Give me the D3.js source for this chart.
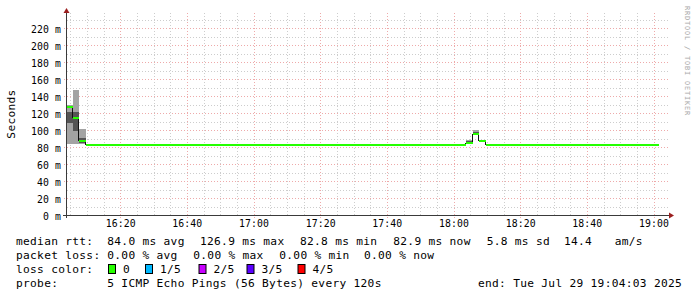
<!DOCTYPE html>
<html>
<head>
<meta charset="utf-8">
<script src="https://cdn.jsdelivr.net/npm/d3@7"></script>
<style>
  html, body { margin: 0; padding: 0; background: #fff; }
  svg { display: block; }
  text { font-family: "DejaVu Sans Mono", monospace; }
</style>
</head>
<body>
<svg id="chart" width="697" height="297"></svg>
<script>
// ── Data (ms) ──
// 5 pings every 120 s, one column per step
const stepStart = Date.UTC(2025, 6, 29, 16, 3, 42);
const stepSec = 120;
const graphStart = Date.UTC(2025, 6, 29, 16, 4, 3);
const graphEnd   = Date.UTC(2025, 6, 29, 19, 4, 3);

const median = [
  126.9, 114.5, 87.0, 82.9, 82.9, 82.9, 82.9, 82.9, 82.9, 82.9,
  82.9, 82.9, 82.9, 82.9, 82.9, 82.9, 82.9, 82.9, 82.9, 82.9,
  82.9, 82.9, 82.9, 82.9, 82.9, 82.9, 82.9, 82.9, 82.9, 82.9,
  82.9, 82.9, 82.9, 82.9, 82.9, 82.9, 82.9, 82.9, 82.9, 82.9,
  82.9, 82.9, 82.9, 82.9, 82.9, 82.9, 82.9, 82.9, 82.9, 82.9,
  82.9, 82.9, 82.9, 82.9, 82.9, 82.9, 82.9, 82.9, 82.9, 82.9,
  84.3, 95.0, 87.0, 82.9, 82.9, 82.9, 82.9, 82.9, 82.9, 82.9,
  82.9, 82.9, 82.9, 82.9, 82.9, 82.9, 82.9, 82.9, 82.9, 82.9,
  82.9, 82.9, 82.9, 82.9, 82.9, 82.9, 82.9, 82.9, 82.9
];
const pingMax = [
  129.4, 147.0, 101.2, 83.5, 83.5, 83.5, 83.5, 83.5, 83.5, 83.5,
  83.5, 83.5, 83.5, 83.5, 83.5, 83.5, 83.5, 83.5, 83.5, 83.5,
  83.5, 83.5, 83.5, 83.5, 83.5, 83.5, 83.5, 83.5, 83.5, 83.5,
  83.5, 83.5, 83.5, 83.5, 83.5, 83.5, 83.5, 83.5, 83.5, 83.5,
  83.5, 83.5, 83.5, 83.5, 83.5, 83.5, 83.5, 83.5, 83.5, 83.5,
  83.5, 83.5, 83.5, 83.5, 83.5, 83.5, 83.5, 83.5, 83.5, 83.5,
  88.2, 99.5, 88.0, 83.5, 83.5, 83.5, 83.5, 83.5, 83.5, 83.5,
  83.5, 83.5, 83.5, 83.5, 83.5, 83.5, 83.5, 83.5, 83.5, 83.5,
  83.5, 83.5, 83.5, 83.5, 83.5, 83.5, 83.5, 83.5, 83.5
];
const pingHi = [
  121.5, 121.2, 90.6, 83.1, 83.1, 83.1, 83.1, 83.1, 83.1, 83.1,
  83.1, 83.1, 83.1, 83.1, 83.1, 83.1, 83.1, 83.1, 83.1, 83.1,
  83.1, 83.1, 83.1, 83.1, 83.1, 83.1, 83.1, 83.1, 83.1, 83.1,
  83.1, 83.1, 83.1, 83.1, 83.1, 83.1, 83.1, 83.1, 83.1, 83.1,
  83.1, 83.1, 83.1, 83.1, 83.1, 83.1, 83.1, 83.1, 83.1, 83.1,
  83.1, 83.1, 83.1, 83.1, 83.1, 83.1, 83.1, 83.1, 83.1, 83.1,
  86.5, 97.6, 87.5, 83.1, 83.1, 83.1, 83.1, 83.1, 83.1, 83.1,
  83.1, 83.1, 83.1, 83.1, 83.1, 83.1, 83.1, 83.1, 83.1, 83.1,
  83.1, 83.1, 83.1, 83.1, 83.1, 83.1, 83.1, 83.1, 83.1
];
const pingLo = [
  107.9, 98.8, 84.7, 82.8, 82.8, 82.8, 82.8, 82.8, 82.8, 82.8,
  82.8, 82.8, 82.8, 82.8, 82.8, 82.8, 82.8, 82.8, 82.8, 82.8,
  82.8, 82.8, 82.8, 82.8, 82.8, 82.8, 82.8, 82.8, 82.8, 82.8,
  82.8, 82.8, 82.8, 82.8, 82.8, 82.8, 82.8, 82.8, 82.8, 82.8,
  82.8, 82.8, 82.8, 82.8, 82.8, 82.8, 82.8, 82.8, 82.8, 82.8,
  82.8, 82.8, 82.8, 82.8, 82.8, 82.8, 82.8, 82.8, 82.8, 82.8,
  84.0, 95.5, 86.5, 82.8, 82.8, 82.8, 82.8, 82.8, 82.8, 82.8,
  82.8, 82.8, 82.8, 82.8, 82.8, 82.8, 82.8, 82.8, 82.8, 82.8,
  82.8, 82.8, 82.8, 82.8, 82.8, 82.8, 82.8, 82.8, 82.8
];
const pingMin = [
  83.2, 83.0, 83.0, 82.6, 82.6, 82.6, 82.6, 82.6, 82.6, 82.6,
  82.6, 82.6, 82.6, 82.6, 82.6, 82.6, 82.6, 82.6, 82.6, 82.6,
  82.6, 82.6, 82.6, 82.6, 82.6, 82.6, 82.6, 82.6, 82.6, 82.6,
  82.6, 82.6, 82.6, 82.6, 82.6, 82.6, 82.6, 82.6, 82.6, 82.6,
  82.6, 82.6, 82.6, 82.6, 82.6, 82.6, 82.6, 82.6, 82.6, 82.6,
  82.6, 82.6, 82.6, 82.6, 82.6, 82.6, 82.6, 82.6, 82.6, 82.6,
  83.3, 94.6, 86.0, 82.6, 82.6, 82.6, 82.6, 82.6, 82.6, 82.6,
  82.6, 82.6, 82.6, 82.6, 82.6, 82.6, 82.6, 82.6, 82.6, 82.6,
  82.6, 82.6, 82.6, 82.6, 82.6, 82.6, 82.6, 82.6, 82.6
];

const yTicks = [0, 20, 40, 60, 80, 100, 120, 140, 160, 180, 200, 220];
const xTickLabels = ['16:20', '16:40', '17:00', '17:20', '17:40', '18:00', '18:20', '18:40', '19:00'];

const rttStats  = ['84.0 ms avg', '126.9 ms max', '82.8 ms min', '82.9 ms now', '5.8 ms sd', '14.4', 'am/s'];
const lossStats = ['0.00 % avg', '0.00 % max', '0.00 % min', '0.00 % now'];
const lossLabels = ['0', '1/5', '2/5', '3/5', '4/5'];
const lossColors = ['#26ff00', '#00b8ff', '#c800ff', '#5a00ff', '#ff0000'];
const probeText = '5 ICMP Echo Pings (56 Bytes) every 120s';
const endText = 'end: Tue Jul 29 19:04:03 2025';

// ── Setup ──
const svg = d3.select('#chart');
const plotL = 67, plotR = 667, plotT = 15, plotB = 215;

const x = d3.scaleUtc().domain([graphStart, graphEnd]).range([plotL, plotR]);
const y = d3.scaleLinear().domain([0, 200 / 0.85]).range([plotB, plotT]);

const cols = median.map((m, i) => ({
  t0: new Date(stepStart + i * stepSec * 1000),
  t1: new Date(stepStart + (i + 1) * stepSec * 1000),
  med: m, prev: i > 0 ? median[i - 1] : m,
  max: pingMax[i], hi: pingHi[i], lo: pingLo[i], min: pingMin[i]
}));

const xTickDates = xTickLabels.map(s => {
  const [h, mi] = s.split(':').map(Number);
  return new Date(Date.UTC(2025, 6, 29, h, mi));
});

// ── Grid ──
const grid = svg.append('g').attr('shape-rendering', 'crispEdges');
const minorX = x.ticks(d3.utcMinute.every(5)).filter(d => d.getUTCMinutes() % 20 !== 0);
const minorY = d3.range(10, 235, 20);
const gridMinor = '#cdcdcd', gridMajor = '#eeaaaa';

grid.selectAll('.vmin').data(minorX).enter().append('line')
  .attr('x1', d => Math.round(x(d)) + 0.5).attr('x2', d => Math.round(x(d)) + 0.5)
  .attr('y1', plotT - 2).attr('y2', plotB)
  .attr('stroke', gridMinor).attr('stroke-dasharray', '1,2');
grid.selectAll('.hmin').data(minorY).enter().append('line')
  .attr('x1', plotL).attr('x2', plotR + 1)
  .attr('y1', d => Math.round(y(d)) + 0.5).attr('y2', d => Math.round(y(d)) + 0.5)
  .attr('stroke', gridMinor).attr('stroke-dasharray', '1,2');
grid.selectAll('.vmaj').data(xTickDates).enter().append('line')
  .attr('x1', d => Math.round(x(d)) + 0.5).attr('x2', d => Math.round(x(d)) + 0.5)
  .attr('y1', plotT - 2).attr('y2', plotB + 3)
  .attr('stroke', gridMajor).attr('stroke-dasharray', '1,2');
grid.selectAll('.hmaj').data(yTicks.filter(v => v > 0)).enter().append('line')
  .attr('x1', plotL - 3).attr('x2', plotR + 2)
  .attr('y1', d => Math.round(y(d)) + 0.5).attr('y2', d => Math.round(y(d)) + 0.5)
  .attr('stroke', gridMajor).attr('stroke-dasharray', '1,2');

// ── Smoke + median ──
svg.append('clipPath').attr('id', 'plotclip')
  .append('rect').attr('x', plotL).attr('y', plotT).attr('width', plotR - plotL).attr('height', plotB - plotT);
const plot = svg.append('g').attr('clip-path', 'url(#plotclip)');

plot.selectAll('.smoke1').data(cols).enter().append('rect')
  .attr('x', d => x(d.t0)).attr('width', d => x(d.t1) - x(d.t0))
  .attr('y', d => y(d.max)).attr('height', d => y(d.min) - y(d.max))
  .attr('fill', '#a3a3a3').attr('shape-rendering', 'crispEdges');
plot.selectAll('.smoke2').data(cols).enter().append('rect')
  .attr('x', d => x(d.t0)).attr('width', d => x(d.t1) - x(d.t0))
  .attr('y', d => y(d.hi)).attr('height', d => y(d.lo) - y(d.hi))
  .attr('fill', '#545454').attr('shape-rendering', 'crispEdges');

const yPix = v => Math.round(y(v));

// dark risers where the median steps
plot.selectAll('.riser').data(cols.filter(d => d.med !== d.prev)).enter().append('line')
  .attr('x1', d => Math.round(x(d.t0)) - 0.5).attr('x2', d => Math.round(x(d.t0)) - 0.5)
  .attr('y1', d => yPix(d.prev)).attr('y2', d => yPix(d.med))
  .attr('stroke', '#111').attr('stroke-width', 1);

plot.selectAll('.med').data(cols).enter().append('line')
  .attr('x1', d => Math.round(x(d.t0))).attr('x2', d => Math.round(x(d.t1)))
  .attr('y1', d => yPix(d.med)).attr('y2', d => yPix(d.med))
  .attr('stroke', lossColors[0]).attr('stroke-width', 2);

// ── Axes ──
const axisCol = '#3a3a3a', arrowCol = '#9b1f1f';
svg.append('line').attr('x1', plotL - 4).attr('x2', plotR + 3)
  .attr('y1', plotB + 0.5).attr('y2', plotB + 0.5).attr('stroke', axisCol);
svg.append('line').attr('x1', plotL - 0.5).attr('x2', plotL - 0.5)
  .attr('y1', plotB + 3).attr('y2', plotT - 2).attr('stroke', axisCol);
svg.append('path').attr('d', `M${plotL - 3.5},${plotT - 2} L${plotL - 0.5},${plotT - 7} L${plotL + 2.5},${plotT - 2} Z`)
  .attr('fill', arrowCol);
svg.append('path').attr('d', `M${plotR + 2},${plotB - 2.5} L${plotR + 7},${plotB + 0.5} L${plotR + 2},${plotB + 3.5} Z`)
  .attr('fill', arrowCol);

const yAxis = svg.append('g').attr('transform', 'translate(61,0)')
  .call(d3.axisLeft(y).tickValues(yTicks).tickFormat(v => `${v} m`).tickSize(0).tickPadding(0));
yAxis.select('.domain').remove();
yAxis.selectAll('text').attr('dy', '0.42em')
  .style('font-family', '"DejaVu Sans Mono", monospace').style('font-size', '9.8px')
  .style('letter-spacing', '0.1px').attr('fill', '#000');

const xAxis = svg.append('g').attr('transform', 'translate(0,220.5)')
  .call(d3.axisBottom(x).tickValues(xTickDates).tickFormat((d, i) => xTickLabels[i]).tickSize(0).tickPadding(0));
xAxis.select('.domain').remove();
xAxis.selectAll('text')
  .style('font-family', '"DejaVu Sans Mono", monospace').style('font-size', '9.8px')
  .style('letter-spacing', '0.1px').attr('fill', '#000');

// Unit label
svg.append('text').attr('transform', 'translate(15,114) rotate(-90)')
  .attr('text-anchor', 'middle').style('font-size', '11.2px').style('letter-spacing', '0.3px')
  .attr('fill', '#000').text('Seconds');

// Watermark
svg.append('text').attr('transform', 'translate(685,6) rotate(90)')
  .style('font-size', '6.9px').style('letter-spacing', '0.85px')
  .attr('fill', '#a8a8a8').text('RRDTOOL / TOBI OETIKER');

// ── Legend ──
const legend = svg.append('g').style('font-size', '11.2px').style('letter-spacing', '0.3px').attr('fill', '#000');
const put = (xx, yy, s) => legend.append('text').attr('x', xx).attr('y', yy).text(s);

put(16, 245, 'median rtt:');
[107.3, 200, 300, 393.3, 486.7, 564, 614.7].forEach((xx, i) => put(xx, 245, rttStats[i]));

put(16, 259, 'packet loss:');
[107.3, 193.3, 279.3, 364].forEach((xx, i) => put(xx, 259, lossStats[i]));

put(16, 273, 'loss color:');
[108.5, 145.5, 199, 247, 298].forEach((xx, i) => {
  legend.append('rect').attr('x', xx).attr('y', 264.5).attr('width', 7).attr('height', 9)
    .attr('fill', lossColors[i]).attr('stroke', '#000').attr('stroke-width', 1);
  put(xx + 14.5, 273, lossLabels[i]);
});

put(16, 287, 'probe:');
put(107.3, 287, probeText);
put(478, 287, endText);
</script>
</body>
</html>
